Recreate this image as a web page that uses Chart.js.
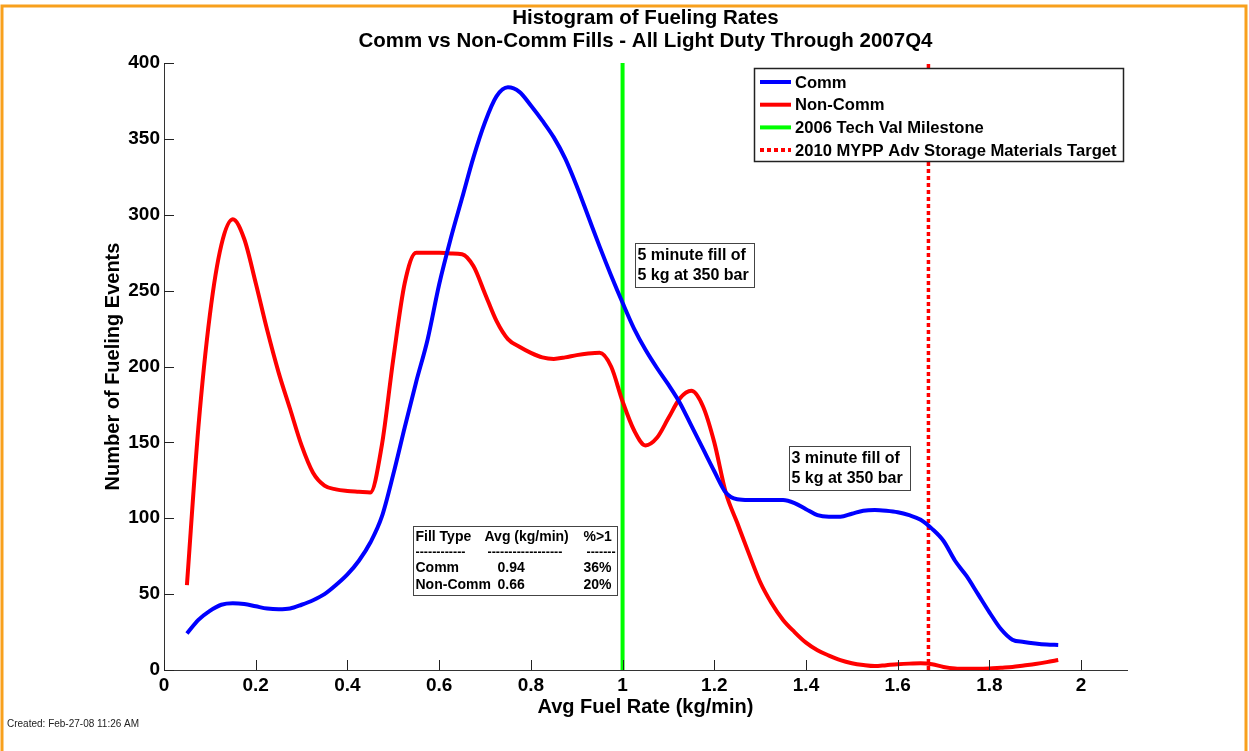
<!DOCTYPE html>
<html>
<head>
<meta charset="utf-8">
<script src="https://cdn.jsdelivr.net/npm/chart.js@4.4.1/dist/chart.umd.min.js"></script>
<style>
  html, body { margin: 0; padding: 0; background: #fff; }
  #wrap { width: 1249px; height: 751px; position: relative; }
</style>
</head>
<body>
<div id="wrap"><canvas id="chart" width="1249" height="751"></canvas></div>
<script>
// fuel rate bins (kg/min)
const rates = [0.05, 0.075, 0.1, 0.125, 0.15, 0.175, 0.2, 0.225, 0.25, 0.275,
  0.3, 0.325, 0.35, 0.375, 0.4, 0.425, 0.45, 0.475, 0.5, 0.525,
  0.55, 0.575, 0.6, 0.625, 0.65, 0.675, 0.7, 0.725, 0.75, 0.775,
  0.8, 0.825, 0.85, 0.875, 0.9, 0.925, 0.95, 0.975, 1.0, 1.025,
  1.05, 1.075, 1.1, 1.125, 1.15, 1.175, 1.2, 1.225, 1.25, 1.275,
  1.3, 1.325, 1.35, 1.375, 1.4, 1.425, 1.45, 1.475, 1.5, 1.525,
  1.55, 1.575, 1.6, 1.625, 1.65, 1.675, 1.7, 1.725, 1.75, 1.775,
  1.8, 1.825, 1.85, 1.875, 1.9, 1.925, 1.95];

const commEvents = [24, 33, 39, 43, 44, 43.5, 42, 40.5, 40, 40.5,
  43, 46, 50, 56, 63, 72, 84, 101, 129, 160,
  190, 218, 254, 284, 311, 338, 361, 378, 384, 381,
  372, 362, 351, 337, 319, 299, 279, 260, 242, 225,
  211, 199, 188, 176, 161, 146, 131, 117, 112.5, 112,
  112, 112, 112, 110, 106, 102, 101, 101, 103, 105,
  105.5, 105, 104, 102, 99, 93, 85, 72, 62, 50,
  38, 27, 20, 18.5, 17.5, 16.8, 16.5];

const nonCommEvents = [56, 160, 234, 280, 297, 284, 255, 224, 196, 172,
  148, 130, 121.5, 119, 118, 117.5, 117, 148, 205, 255,
  275, 275, 275, 274.5, 274, 266, 248, 230, 218, 213,
  209, 206, 205, 206, 207.5, 208.5, 209, 200, 177, 158,
  148, 153, 166, 179, 184, 174, 150, 117, 97, 77,
  58, 44, 33, 25, 18, 13, 9.5, 6.5, 4.5, 3.3,
  2.6, 3.2, 3.8, 4.2, 4.4, 3.8, 2, 1, 0.8, 0.8,
  1, 1.5, 2, 3, 4, 5.2, 6.6];

const milestoneRate = 1.0;    // 2006 tech val milestone
const targetRate = 1.667;     // 2010 MYPP target (5 kg in 3 min)

const statsHeader = ['Fill Type', 'Avg (kg/min)', '%>1'];
const statsRows = [['Comm', '0.94', '36%'], ['Non-Comm', '0.66', '20%']];

const FONT = '"Liberation Sans", Arial, sans-serif';

const pts = (ys) => rates.map((x, i) => ({ x: x, y: ys[i] }));

// titles, axis labels, text boxes, legend, inward ticks
const decorations = {
  id: 'decorations',
  beforeDraw(chart) {
    const c = chart.ctx;
    c.save();
    c.strokeStyle = '#f8a01c';
    c.lineWidth = 3;
    c.beginPath();
    c.moveTo(2, 760);
    c.lineTo(2, 6);
    c.lineTo(1246, 6);
    c.lineTo(1246, 760);
    c.stroke();
    c.restore();
  },
  afterDatasetsDraw(chart) {
    const c = chart.ctx;
    const x = chart.scales.x, y = chart.scales.y;
    const a = chart.chartArea;
    c.save();

    // titles
    c.fillStyle = '#000';
    c.textAlign = 'center';
    c.textBaseline = 'middle';
    c.font = 'bold 20.5px ' + FONT;
    const cx = (a.left + a.right) / 2;
    c.fillText('Histogram of Fueling Rates', cx, 18);
    c.fillText('Comm vs Non-Comm Fills - All Light Duty Through 2007Q4', cx, 41);

    c.font = 'bold 20px ' + FONT;
    c.fillText('Avg Fuel Rate (kg/min)', cx, 707);
    c.save();
    c.translate(113, (a.top + a.bottom) / 2);
    c.rotate(-Math.PI / 2);
    c.fillText('Number of Fueling Events', 0, 0);
    c.restore();

    // inward ticks
    c.strokeStyle = '#222';
    c.lineWidth = 1;
    c.beginPath();
    x.ticks.forEach(t => {
      const px = Math.round(x.getPixelForValue(t.value)) + 0.5;
      c.moveTo(px, a.bottom); c.lineTo(px, a.bottom - 10);
    });
    y.ticks.forEach(t => {
      const py = Math.round(y.getPixelForValue(t.value)) + 0.5;
      c.moveTo(a.left, py); c.lineTo(a.left + 10, py);
    });
    c.stroke();

    // text boxes
    const textBox = (vx, vy, w, h, lines, fs, lh) => {
      const bx = Math.round(x.getPixelForValue(vx)) + 0.5;
      const by = Math.round(y.getPixelForValue(vy)) + 0.5;
      c.fillStyle = '#fff';
      c.fillRect(bx, by, w, h);
      c.strokeStyle = '#444';
      c.lineWidth = 1;
      c.strokeRect(bx, by, w, h);
      c.fillStyle = '#000';
      c.textAlign = 'left';
      c.font = 'bold ' + fs + 'px ' + FONT;
      lines.forEach((l, i) => c.fillText(l, bx + 2, by + 12 + i * lh));
    };
    textBox(1.027, 281.5, 119, 44, ['5 minute fill of', '5 kg at 350 bar'], 16, 20);
    textBox(1.363, 147.7, 121, 44, ['3 minute fill of', '5 kg at 350 bar'], 16, 20);

    // stats table
    const sx = Math.round(x.getPixelForValue(0.543)) + 0.5;
    const sy = Math.round(y.getPixelForValue(95)) + 0.5;
    c.fillStyle = '#fff';
    c.fillRect(sx, sy, 204, 69);
    c.strokeStyle = '#444';
    c.strokeRect(sx, sy, 204, 69);
    c.fillStyle = '#000';
    c.font = 'bold 14px ' + FONT;
    c.textAlign = 'left';
    c.fillText(statsHeader[0], sx + 2, sy + 11);
    c.fillText(statsHeader[1], sx + 71, sy + 11);
    c.fillText(statsHeader[2], sx + 170, sy + 11);
    c.font = 'bold 12.5px ' + FONT;
    c.fillText('------------', sx + 2, sy + 26);
    c.fillText('------------------', sx + 74, sy + 26);
    c.fillText('-------', sx + 173, sy + 26);
    c.font = 'bold 14px ' + FONT;
    statsRows.forEach((r, i) => {
      const ry = sy + 42 + i * 17;
      c.fillText(r[0], sx + 2, ry);
      c.fillText(r[1], sx + 84, ry);
      c.fillText(r[2], sx + 170, ry);
    });

    // legend
    const lx = 754.5, ly = 68.5, lw = 369, lh = 93;
    c.fillStyle = '#fff';
    c.fillRect(lx, ly, lw, lh);
    c.strokeStyle = '#222';
    c.lineWidth = 1.5;
    c.strokeRect(lx, ly, lw, lh);
    c.font = 'bold 16.6px ' + FONT;
    chart.data.datasets.forEach((ds, i) => {
      const ry = 82 + i * 22.7;
      c.strokeStyle = ds.borderColor;
      c.lineWidth = 4;
      c.setLineDash(ds.borderDash || []);
      c.beginPath();
      c.moveTo(760, ry); c.lineTo(791, ry);
      c.stroke();
      c.setLineDash([]);
      c.fillStyle = '#000';
      c.fillText(ds.label, 795, ry + 1);
    });

    // footer
    c.font = '10px ' + FONT;
    c.fillStyle = '#222';
    c.fillText('Created: Feb-27-08 11:26 AM', 7, 724);
    c.restore();
  }
};

new Chart(document.getElementById('chart'), {
  type: 'line',
  data: {
    datasets: [
      { label: 'Comm', data: pts(commEvents), borderColor: '#0000ff', borderWidth: 4,
        pointRadius: 0, cubicInterpolationMode: 'monotone' },
      { label: 'Non-Comm', data: pts(nonCommEvents), borderColor: '#ff0000', borderWidth: 4,
        pointRadius: 0, cubicInterpolationMode: 'monotone' },
      { label: '2006 Tech Val Milestone', data: [{ x: milestoneRate, y: 0 }, { x: milestoneRate, y: 400 }],
        borderColor: '#00ff00', borderWidth: 4, pointRadius: 0 },
      { label: '2010 MYPP Adv Storage Materials Target', data: [{ x: targetRate, y: 0 }, { x: targetRate, y: 400 }],
        borderColor: '#ff0000', borderWidth: 3.5, borderDash: [4, 3], pointRadius: 0 }
    ]
  },
  options: {
    responsive: false,
    animation: false,
    devicePixelRatio: 1,
    layout: { padding: { top: 63, right: 122, left: 0, bottom: 0 } },
    plugins: { legend: { display: false }, title: { display: false }, tooltip: { enabled: false } },
    scales: {
      x: {
        type: 'linear', min: 0, max: 2.1,
        grid: { display: false, drawTicks: false },
        border: { display: true, color: '#333', width: 1 },
        ticks: {
          stepSize: 0.2, includeBounds: false, padding: 4, color: '#000',
          font: { family: FONT, size: 19, weight: 'bold' },
          maxRotation: 0,
          callback: v => String(+v.toFixed(1))
        },
        afterFit: s => { s.height = 81; }
      },
      y: {
        min: 0, max: 400,
        grid: { display: false, drawTicks: false },
        border: { display: true, color: '#333', width: 1 },
        ticks: {
          stepSize: 50, padding: 4, color: '#000',
          font: { family: FONT, size: 19, weight: 'bold' }
        },
        afterFit: s => { s.width = 164; }
      }
    }
  },
  plugins: [decorations]
});
</script>
</body>
</html>
